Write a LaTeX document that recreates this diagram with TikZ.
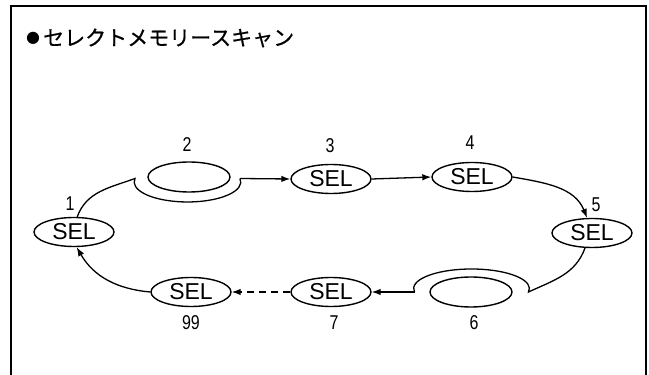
\documentclass[tikz,border=0pt]{standalone}
\usepackage{fontspec}
\setmainfont{Liberation Sans}
\newfontfamily\cjk[FakeBold=0.6]{Noto Sans CJK JP}
\newfontfamily\dejavu{DejaVu Sans}
\newfontfamily\numfont[FakeStretch=0.8]{Liberation Sans}
\usetikzlibrary{arrows.meta,shapes.geometric}
\begin{document}
\begin{tikzpicture}[x=1pt,y=1pt,
  selnode/.style={ellipse, draw, line width=1.4pt, minimum width=80pt, minimum height=29pt, inner sep=0pt, font=\fontsize{23}{23}\selectfont},
  blank/.style={ellipse, draw, line width=1.4pt, minimum width=82pt, minimum height=30pt, inner sep=0pt},
  numlab/.style={font=\numfont\fontsize{20}{20}\selectfont, inner sep=0pt},
  conn/.style={line width=1.3pt},
  arr/.style={conn, -{Latex[length=9pt,width=6.5pt]}},
  dasharr/.style={arr, dash pattern=on 7pt off 5pt},
]
\useasboundingbox (0,0) rectangle (649,375);
\draw[line width=1.4pt] (11,0) -- (11,369) -- (646,369) -- (646,0);
\node[font=\dejavu\fontsize{16}{16}\selectfont, inner sep=0pt] (bul) at (33,337) {●};
\node[font=\cjk\fontsize{21}{21}\selectfont, anchor=west, inner sep=0pt] (title) at (43,337) {セレクトメモリースキャン};
% top row
\node[selnode] (s1) at (74,143) {SEL};
\node[numlab] (l1) at (70,171) {1};
\node[blank] (e2) at (189,198) {};
\node[numlab] (l2) at (187,230) {2};
\coordinate (A) at (135,196.5);
\coordinate (B) at (240,196.5);
\node[selnode] (s3) at (331,196) {SEL};
\node[numlab] (l3) at (330,229) {3};
\node[selnode] (s4) at (472,198) {SEL};
\node[numlab] (l4) at (470,232) {4};
\node[selnode] (s5) at (592,142) {SEL};
\node[numlab] (l5) at (596,170) {5};
% bottom row
\node[blank] (e6) at (471,83) {};
\node[numlab] (l6) at (474,52) {6};
\coordinate (C) at (528.5,83);
\coordinate (D) at (414.5,83);
\node[selnode] (s7) at (331,83) {SEL};
\node[numlab] (l7) at (334,52) {7};
\node[selnode] (s99) at (191,83) {SEL};
\node[numlab] (l99) at (191,52) {99};
% connectors
\draw[conn] (s1.78) to[out=70,in=200] (A) arc[start angle=170,end angle=370,x radius=53.3,y radius=20];
\draw[arr] (B) -- (s3.west);
\draw[arr] (s3.east) -- (s4.west);
\draw[arr] (s4.east) to[out=-10,in=112] (s5.108);
\draw[conn] (s5.245) to[out=-110,in=25] (C) arc[start angle=-10,end angle=190,x radius=57.88,y radius=19.6];
\draw[arr] (D) -- (s7.east);
\draw[dasharr] (s7.west) -- (s99.east);
\draw[arr] (s99.west) to[out=175,in=-60] (s1.-80);
\end{tikzpicture}
\end{document}
